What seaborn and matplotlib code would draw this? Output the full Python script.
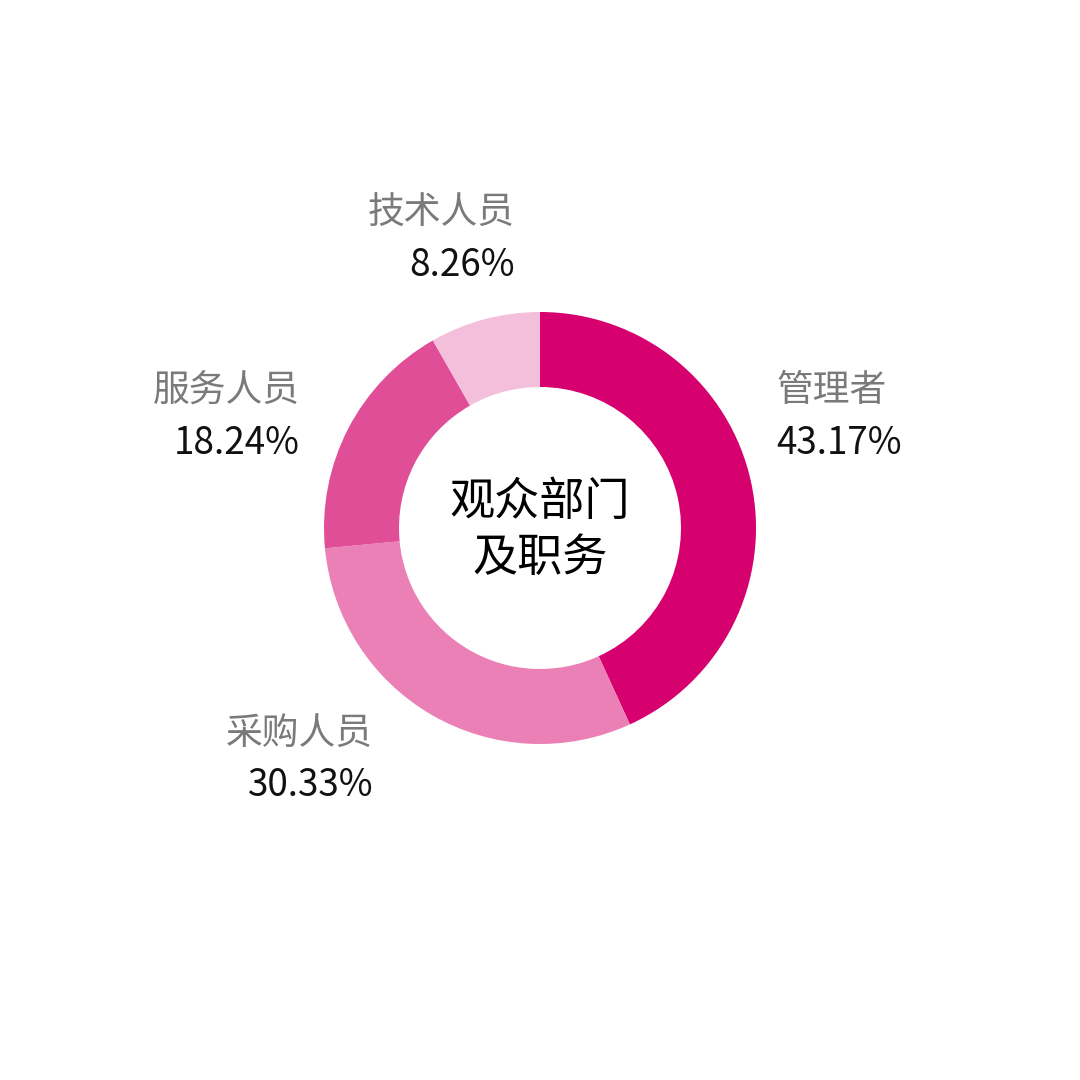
import matplotlib
matplotlib.use("Agg")
import matplotlib.pyplot as plt
import seaborn as sns

sns.set_theme(style="white")
plt.rcParams['font.family'] = ['Noto Sans CJK SC', 'DejaVu Sans']

categories = ["管理者", "采购人员", "服务人员", "技术人员"]
values = [43.17, 30.33, 18.24, 8.26]
colors = ["#D6006F", "#EA80B6", "#E04E98", "#F4BFDB"]
center_title = "观众部门\n及职务"

# label anchor positions (pixel coords), alignment
label_pos = {
    "管理者": (776, 391, "left"),
    "采购人员": (373, 733, "right"),
    "服务人员": (300, 391, "right"),
    "技术人员": (515, 213, "right"),
}

fig = plt.figure(figsize=(10.8, 10.8), dpi=100)
ax = fig.add_axes([0, 0, 1, 1])

ax.pie(values, colors=colors, startangle=90, counterclock=False,
       center=(540, 1080 - 528), radius=216,
       wedgeprops=dict(width=75, linewidth=0), frame=True)
ax.set_xlim(0, 1080)
ax.set_ylim(0, 1080)
ax.set_aspect('equal')
ax.axis('off')

for cat, val in zip(categories, values):
    x, y, ha = label_pos[cat]
    ax.text(x, 1080 - y, cat, ha=ha, va='center', fontsize=26.5,
            color="#7a7a7a", fontweight='light')
    ax.text(x, 1080 - (y + 53), f"{val:.2f}%", ha=ha, va='center', fontsize=26.5,
            color="#111111", fontweight='light')

ax.text(540, 1080 - 530, center_title, ha='center', va='center', fontsize=32.5,
        color="#000000", linespacing=1.3)

fig.savefig("out.png", dpi=100, facecolor="white")
